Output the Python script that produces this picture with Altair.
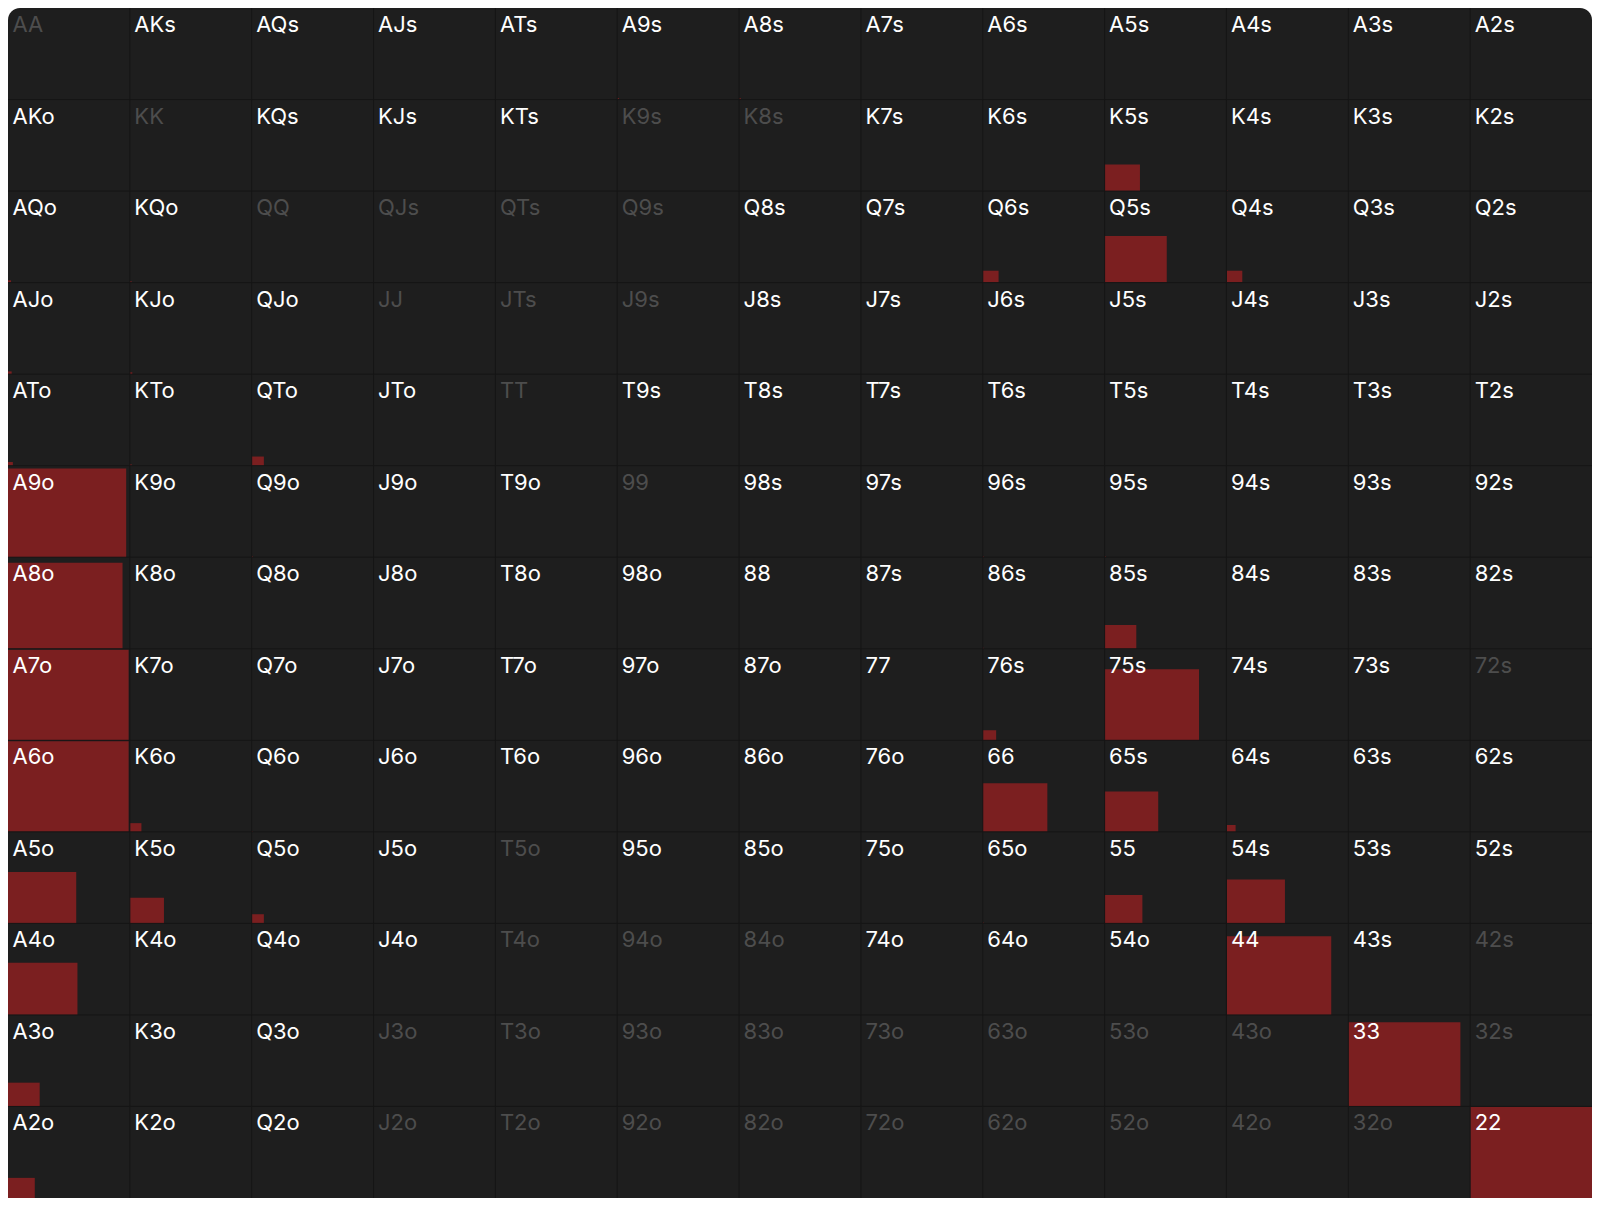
import altair as alt
import pandas as pd

# Card ranks, high to low (row / column order of the grid)
RANKS = ["A", "K", "Q", "J", "T", "9", "8", "7", "6", "5", "4", "3", "2"]

# Side length of the red square in each cell, as a share of the cell
HANDS = ["A9s", "A8s", "K5s", "K4s", "AQo", "KQo", "Q6s", "Q5s", "Q4s",
         "AJo", "KJo", "ATo", "KTo", "QTo", "A9o", "Q9o", "96s", "95s",
         "A8o", "85s", "86s", "A7o", "76s", "75s", "A6o", "K6o", "Q6o",
         "66", "65s", "64s", "A5o", "K5o", "Q5o", "65o", "55", "54s",
         "A4o", "44", "A3o", "33", "A2o", "22"]
SHARES = [0.015, 0.015, 0.29, 0.01, 0.025, 0.015, 0.13, 0.51, 0.13,
          0.03, 0.02, 0.04, 0.015, 0.10, 0.97, 0.01, 0.01, 0.01,
          0.94, 0.26, 0.01, 0.99, 0.11, 0.775, 0.99, 0.095, 0.01,
          0.53, 0.44, 0.075, 0.56, 0.28, 0.10, 0.01, 0.31, 0.48,
          0.57, 0.86, 0.26, 0.92, 0.22, 1.0]

# Hands whose label is greyed out
DIM = ["AA", "KK", "K9s", "K8s", "QQ", "QJs", "QTs", "Q9s", "JJ", "JTs", "J9s",
       "TT", "99", "72s", "T5o", "T4o", "94o", "84o", "42s", "J3o", "T3o",
       "93o", "83o", "73o", "63o", "53o", "43o", "32s", "J2o", "T2o", "92o",
       "82o", "72o", "62o", "52o", "42o", "32o"]

# Inner grid line positions
LINES = list(range(1, 13))

share = dict(zip(HANDS, SHARES))
recs = []
for r, a in enumerate(RANKS):
    for c, b in enumerate(RANKS):
        if r == c:
            hand = a + b
        elif c > r:
            hand = a + b + "s"
        else:
            hand = b + a + "o"
        recs.append({"hand": hand, "row": r, "col": c,
                     "f": share.get(hand, 0.0),
                     "tone": "dim" if hand in DIM else "lit"})
df = pd.DataFrame(recs)
bg = pd.DataFrame([{"x0": 0, "x1": 13, "y0": 0, "y1": 13}])
lines = pd.DataFrame({"v": LINES})

W, H = 1584, 1190
xs = alt.Scale(domain=[0, 13], nice=False, zero=False)
ys = alt.Scale(domain=[0, 13], nice=False, zero=False, reverse=True)

back = alt.Chart(bg).mark_rect(fill="#1e1e1e", cornerRadius=12).encode(
    x=alt.X("x0:Q", scale=xs, axis=None), x2="x1:Q",
    y=alt.Y("y0:Q", scale=ys, axis=None), y2="y1:Q")

bars = alt.Chart(df).transform_filter("datum.f > 0").transform_calculate(
    xe="datum.col + datum.f", yb="datum.row + 1", yt="datum.row + 1 - datum.f"
).mark_rect(fill="#7b1f20").encode(
    x=alt.X("col:Q", scale=xs, axis=None), x2="xe:Q",
    y=alt.Y("yt:Q", scale=ys, axis=None), y2="yb:Q")

vlines = alt.Chart(lines).mark_rule(color="#151515", strokeWidth=1).encode(
    x=alt.X("v:Q", scale=xs, axis=None), y=alt.value(0), y2=alt.value(H))
hlines = alt.Chart(lines).mark_rule(color="#151515", strokeWidth=1).encode(
    y=alt.Y("v:Q", scale=ys, axis=None), x=alt.value(0), x2=alt.value(W))

labels = alt.Chart(df).mark_text(
    align="left", baseline="alphabetic", dx=4.5, dy=24,
    font="Inter", fontSize=22, fontWeight=400
).encode(
    x=alt.X("col:Q", scale=xs, axis=None),
    y=alt.Y("row:Q", scale=ys, axis=None),
    text="hand:N",
    color=alt.Color("tone:N", scale=alt.Scale(domain=["dim", "lit"], range=["#4d4d4d", "#ffffff"]), legend=None))

chart = alt.layer(back, bars, vlines, hlines, labels).properties(
    width=W, height=H,
    autosize="none",
    padding=0,
    background="white",
).configure_view(stroke=None)

chart.save("out.html", embed_options={"renderer": "svg", "actions": False})
